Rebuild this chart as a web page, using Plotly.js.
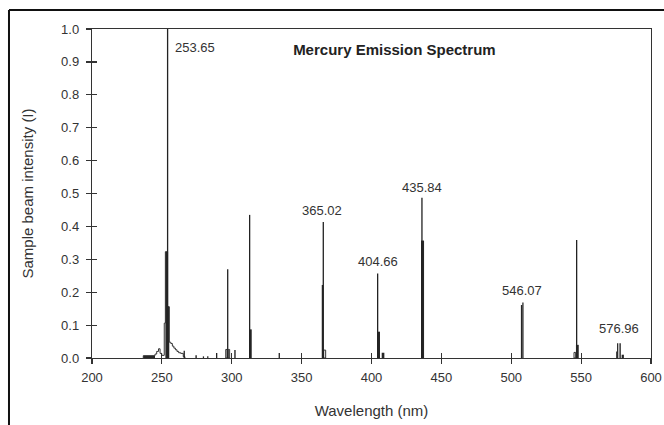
<!DOCTYPE html>
<html>
<head>
<meta charset="utf-8">
<script src="https://cdn.plot.ly/plotly-3.0.1.min.js"></script>
<style>
  html, body { margin: 0; padding: 0; background: #fff; overflow: hidden; }
  #chart { width: 664px; height: 425px; }
</style>
</head>
<body>
<div id="chart"></div>
<script>
// ---- Data ----
// Thin emission lines: axis position (nm) and intensity
const stickWl = [254.1, 297.1, 312.8, 365.5, 404.4, 436.1, 546.8, 266.0, 289.2, 334.0];
const stickI  = [1.0,   0.27,  0.435, 0.413, 0.257, 0.487, 0.359, 0.022, 0.015, 0.015];

// Filled bands: start / end wavelength and intensity
const bandStart = [236.7, 252.5, 254.1, 312.8, 364.4, 404.4, 407.3, 435.4, 506.9, 507.9, 546.3, 575.7, 577.4, 579.0, 575.0, 301.8, 274.0, 279.3, 282.4];
const bandEnd   = [245.1, 253.9, 255.3, 314.3, 365.5, 406.1, 409.2, 437.6, 507.9, 508.8, 548.3, 576.6, 578.4, 580.6, 575.6, 302.8, 275.0, 280.2, 283.3];
const bandI     = [0.007, 0.323, 0.156, 0.087, 0.222, 0.080, 0.016, 0.357, 0.161, 0.169, 0.040, 0.045, 0.045, 0.010, 0.020, 0.024, 0.008, 0.005, 0.005];

// Open (outlined) bands
const openStart = [295.7, 297.5, 365.8, 544.9];
const openEnd   = [296.6, 298.5, 367.2, 546.1];
const openI     = [0.026, 0.026, 0.024, 0.017];

// Step envelope around the 253.65 nm line
const tailWl = [236.7, 236.7, 245.1, 246.3, 247.6, 248.7, 249.9, 251.7, 252.5, 254.1, 255.3, 256.4, 257.5, 258.6, 259.7, 260.8, 262.0, 263.5, 265.3, 266.5];
const tailI  = [0,     0.007, 0.012, 0.02,  0.028, 0.014, 0.008, 0.106, 0.323, 0.156, 0.048, 0.044, 0.036, 0.03,  0.025, 0.02,  0.016, 0.014, 0.004, 0];

// Peak labels: text, peak axis position, peak height
const labelText = ['253.65', '365.02', '404.66', '435.84', '546.07', '576.96'];
const labelWl   = [254.1, 365.5, 404.4, 436.1, 507.9, 577.4];
const labelI    = [1.0,   0.413, 0.257, 0.487, 0.169, 0.045];

const xTicks = [200, 250, 300, 350, 400, 450, 500, 550, 600];
const yTicks = [0, 0.1, 0.2, 0.3, 0.4, 0.5, 0.6, 0.7, 0.8, 0.9, 1.0];

// ---- Build traces ----
const FONT = 'Liberation Sans, Arial, Helvetica, sans-serif';
const INK = '#222';

const sx = [], sy = [];
stickWl.forEach((w, i) => { sx.push(w, w, null); sy.push(0, stickI[i], null); });

const traces = [
  {
    type: 'scatter', mode: 'lines', x: tailWl, y: tailI,
    line: { shape: 'hv', color: '#333', width: 1 }, hoverinfo: 'skip', showlegend: false
  },
  {
    type: 'bar',
    x: openStart.map((s, i) => (s + openEnd[i]) / 2),
    y: openI,
    width: openStart.map((s, i) => openEnd[i] - s),
    marker: { color: '#fff', line: { color: '#333', width: 1 } },
    hoverinfo: 'skip', showlegend: false
  },
  {
    type: 'bar',
    x: bandStart.map((s, i) => (s + bandEnd[i]) / 2),
    y: bandI,
    width: bandStart.map((s, i) => bandEnd[i] - s),
    marker: { color: '#262626', line: { width: 0 } },
    hoverinfo: 'skip', showlegend: false
  },
  {
    type: 'scatter', mode: 'lines', x: sx, y: sy, connectgaps: false,
    line: { color: INK, width: 1.3 }, hoverinfo: 'skip', showlegend: false
  },
  { type: 'scatter', x: [], y: [], xaxis: 'x2', yaxis: 'y2', showlegend: false, hoverinfo: 'skip' }
];

// Label offsets (px) relative to each peak top
const lblShift = [
  { xanchor: 'left', xshift: 5, yshift: -18 },
  { xanchor: 'center', xshift: -1, yshift: 12 },
  { xanchor: 'center', xshift: 0, yshift: 12 },
  { xanchor: 'center', xshift: 0, yshift: 10 },
  { xanchor: 'center', xshift: 0, yshift: 12 },
  { xanchor: 'center', xshift: 0, yshift: 15 }
];
const annotations = labelText.map((t, i) => ({
  text: t, x: labelWl[i], y: labelI[i], xref: 'x', yref: 'y',
  showarrow: false, yanchor: 'middle',
  xanchor: lblShift[i].xanchor, xshift: lblShift[i].xshift, yshift: lblShift[i].yshift,
  font: { family: FONT, size: 13, color: '#333' }
}));

const axisCommon = {
  showgrid: false, zeroline: false, showline: true, linecolor: '#333', linewidth: 1.2,
  mirror: true, ticks: 'outside', ticklen: 5, tickwidth: 1.2, tickcolor: '#333',
  tickfont: { family: FONT, size: 13, color: '#333' }
};

// Outer figure frame (left and top edges), in paper fractions of the plot area
const FL = -0.1485, FT = 1.0578;

const layout = {
  width: 664, height: 425,
  margin: { l: 92, r: 13, t: 29, b: 67 },
  paper_bgcolor: '#fff', plot_bgcolor: '#fff',
  font: { family: FONT, color: '#333' },
  barmode: 'overlay',
  showlegend: false,
  title: {
    text: '<b>Mercury Emission Spectrum</b>',
    font: { family: FONT, size: 15, color: '#222' },
    xref: 'container', yref: 'container', x: 0.594, y: 0.882,
    xanchor: 'center', yanchor: 'middle'
  },
  xaxis: Object.assign({}, axisCommon, {
    range: [200, 600], tickvals: xTicks, ticktext: xTicks.map(String),
    ticklabelstandoff: 2,
    title: { text: 'Wavelength (nm)', font: { family: FONT, size: 15, color: '#333' }, standoff: 21 }
  }),
  yaxis: Object.assign({}, axisCommon, {
    range: [0, 1], tickvals: yTicks, ticktext: yTicks.map(v => v.toFixed(1)),
    ticklabelstandoff: 4,
    title: { text: 'Sample beam intensity (I)', font: { family: FONT, size: 15, color: '#333' }, standoff: 23 }
  }),
  xaxis2: {
    overlaying: 'x', side: 'bottom', range: [200, 600], tickvals: xTicks,
    ticks: 'inside', ticklen: 5, tickwidth: 1.2, tickcolor: '#333',
    showticklabels: false, showgrid: false, zeroline: false, showline: false
  },
  yaxis2: {
    overlaying: 'y', side: 'left', range: [0, 1], tickvals: yTicks,
    ticks: 'inside', ticklen: 5, tickwidth: 1.2, tickcolor: '#333',
    showticklabels: false, showgrid: false, zeroline: false, showline: false
  },
  annotations: annotations,
  shapes: [
    { type: 'line', xref: 'paper', yref: 'paper', x0: FL, x1: FL, y0: -0.3, y1: FT, line: { color: '#111', width: 2 } },
    { type: 'line', xref: 'paper', yref: 'paper', x0: FL, x1: 1.1, y0: FT, y1: FT, line: { color: '#111', width: 2 } }
  ]
};

Plotly.newPlot('chart', traces, layout, { staticPlot: true, displayModeBar: false });
</script>
</body>
</html>
